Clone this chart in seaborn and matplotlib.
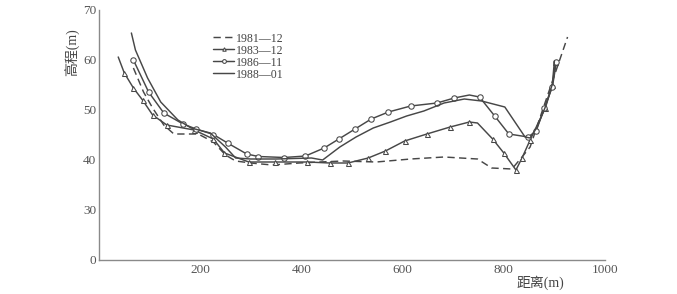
import matplotlib
matplotlib.use("Agg")
import matplotlib.pyplot as plt
import seaborn as sns
import pandas as pd

# ---- data (distance m, elevation m) ----
x_1981 = [68, 88, 106, 128, 148, 196, 226, 250, 270, 300, 342, 396, 436, 482, 548, 616, 682, 748, 776, 816, 836, 852, 880, 926]
y_1981 = [58.4, 53.6, 50.4, 47.0, 45.2, 45.2, 43.6, 41.0, 39.8, 39.4, 39.0, 39.4, 39.6, 39.8, 39.6, 40.2, 40.6, 40.2, 38.4, 38.2, 40.6, 42.6, 51.0, 64.6]

x_1983 = [38, 50, 68, 86, 106, 134, 188, 226, 248, 296, 348, 412, 456, 492, 532, 566, 604, 648, 694, 732, 748, 778, 800, 824, 836, 852, 882, 896, 902]
y_1983 = [60.6, 57.4, 54.4, 52.0, 49.0, 47.0, 46.0, 44.2, 41.4, 39.6, 39.6, 39.6, 39.4, 39.4, 40.4, 41.8, 43.8, 45.2, 46.6, 47.6, 47.4, 44.2, 41.4, 38.0, 40.4, 44.0, 50.4, 55.0, 59.6]

x_1986 = [68, 98, 128, 166, 192, 226, 254, 292, 315, 366, 408, 445, 474, 506, 538, 572, 616, 668, 702, 732, 752, 782, 810, 848, 864, 880, 896, 904]
y_1986 = [60.0, 53.6, 49.4, 47.2, 46.2, 45.1, 43.4, 41.2, 40.7, 40.5, 40.8, 42.4, 44.2, 46.2, 48.2, 49.6, 50.8, 51.4, 52.4, 53.0, 52.6, 48.8, 45.2, 44.6, 45.8, 50.4, 54.6, 59.6]

x_1988 = [64, 72, 96, 122, 156, 182, 220, 250, 270, 300, 350, 420, 442, 476, 508, 542, 576, 608, 642, 662, 682, 722, 756, 802, 842, 852, 866, 882, 896, 900]
y_1988 = [65.4, 62.0, 56.4, 51.6, 48.0, 46.4, 45.4, 42.6, 40.4, 40.2, 40.2, 40.4, 40.0, 42.6, 44.6, 46.4, 47.6, 48.8, 49.8, 50.6, 51.4, 52.2, 51.8, 50.6, 44.6, 44.4, 46.6, 50.6, 55.2, 59.8]

labels = ["1981—12", "1983—12", "1986—11", "1988—01"]
x_ticks = [200, 400, 600, 800, 1000]
y_ticks = [20, 30, 40, 50, 60, 70]
y_tick_labels = ["0", "30", "40", "50", "60", "70"]

sns.set_theme(style="white")
plt.rcParams["font.family"] = ["Liberation Serif", "Noto Sans CJK SC", "DejaVu Sans"]

fig = plt.figure(figsize=(6.77, 2.94), dpi=100)
ax = fig.add_axes([99 / 677, 34 / 294, 506 / 677, 250 / 294])

col = "#474747"
# marker indices (line corners without symbols are skipped)
mk_1983 = [i for i in range(len(x_1983)) if i not in (0, 20)]
mk_1986 = [i for i in range(len(x_1986)) if i not in (19,)]
series = [
    (x_1981, y_1981, labels[0], dict(linestyle=(0, (5, 3)), marker=None)),
    (x_1983, y_1983, labels[1], dict(linestyle="-", marker="^", markersize=3.6, markevery=mk_1983)),
    (x_1986, y_1986, labels[2], dict(linestyle="-", marker="o", markersize=3.9, markevery=mk_1986)),
    (x_1988, y_1988, labels[3], dict(linestyle="-", marker=None)),
]
for xs, ys, lab, kw in series:
    df = pd.DataFrame({"x": xs, "y": ys})
    sns.lineplot(data=df, x="x", y="y", ax=ax, sort=False, estimator=None,
                 color=col, linewidth=1.05, label=lab,
                 markerfacecolor="white", markeredgecolor=col, markeredgewidth=0.75,
                 **kw)

ax.set_xlim(0, 1000)
ax.set_ylim(20, 70)
ax.set_xticks(x_ticks)
ax.set_xticklabels([str(t) for t in x_ticks])
ax.set_yticks(y_ticks)
ax.set_yticklabels(y_tick_labels)
ax.set_xlabel("")
ax.set_ylabel("")

for s in ["top", "right"]:
    ax.spines[s].set_visible(False)
for s in ["left", "bottom"]:
    ax.spines[s].set_color("#8a8a8a")
    ax.spines[s].set_linewidth(1.0)
ax.tick_params(axis="both", direction="in", length=4, width=0.8, color="#8a8a8a",
               labelsize=9.5, labelcolor="#555555", pad=3)
ax.tick_params(axis="y", pad=2)

ax.text(-0.053, 0.832, "高程(m)", transform=ax.transAxes, rotation=90,
        ha="center", va="center", fontsize=10, color="#444444")
ax.text(0.872, -0.092, "距离(m)", transform=ax.transAxes,
        ha="center", va="center", fontsize=10, color="#444444")

leg = ax.legend(loc="upper left", bbox_to_anchor=(0.225, 0.91), frameon=False,
                fontsize=8.6, handlelength=1.8, handletextpad=0.1, labelspacing=0.0,
                borderpad=0, borderaxespad=0, markerscale=0.7)
for t in leg.get_texts():
    t.set_color("#444444")

fig.savefig("out.png", dpi=100)
